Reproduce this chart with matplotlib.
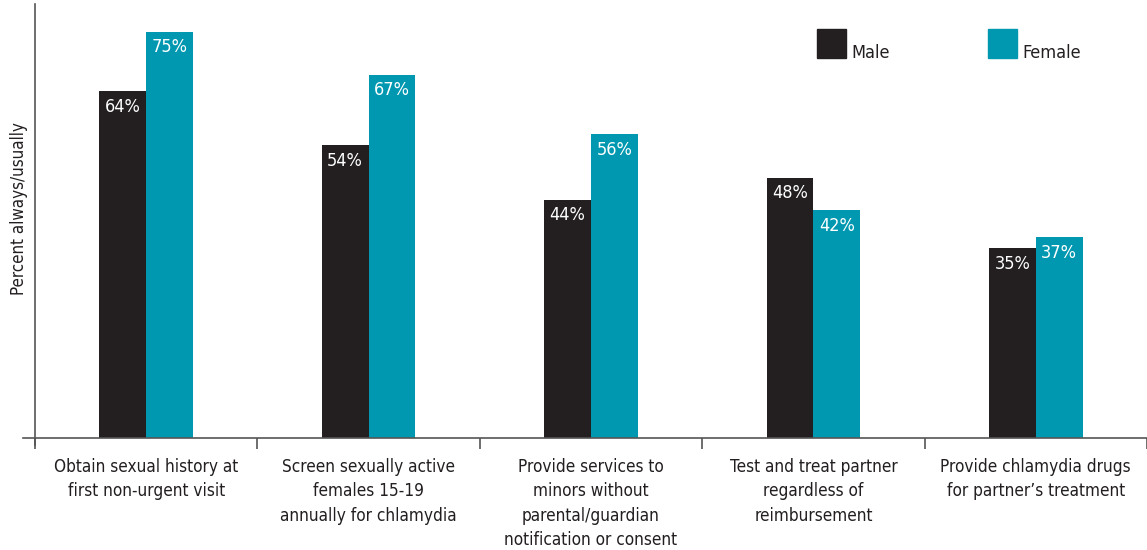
import matplotlib.pyplot as plt
from matplotlib.patches import Rectangle
import numpy as np

# Survey results: share of providers who always/usually do each practice
categories = [
    "Obtain sexual history at\nfirst non-urgent visit",
    "Screen sexually active\nfemales 15-19\nannually for chlamydia",
    "Provide services to\nminors without\nparental/guardian\nnotification or consent",
    "Test and treat partner\nregardless of\nreimbursement",
    "Provide chlamydia drugs\nfor partner\u2019s treatment",
]
male = [64, 54, 44, 48, 35]
female = [75, 67, 56, 42, 37]
series_names = ["Male", "Female"]

male_color = "#231f20"
female_color = "#0098b0"
axis_color = "#555555"

plt.rcParams['font.family'] = ['DejaVu Sans']
plt.rcParams['font.stretch'] = 'condensed'

W, H = 1147, 550
fig = plt.figure(figsize=(W / 100, H / 100), dpi=100)

# axes box in pixels: y axis at x=35, x axis at y=438
left_px, bottom_px, top_px = 23, 438, 4
ax = fig.add_axes([left_px / W, (H - bottom_px - 8) / H,
                   (W - left_px) / W, (bottom_px + 8 - top_px) / H])

group_px = 223.5
x0 = -(35 - left_px) / group_px
ax.set_xlim(x0, x0 + (W - left_px) / group_px)
px_per_pct = 5.42
ax.set_ylim(-8 / px_per_pct, (bottom_px - top_px) / px_per_pct)

x = np.arange(len(categories)) + 0.5
bw = 47 / group_px
mb = ax.bar(x - bw / 2, male, bw, color=male_color, zorder=2)
fb = ax.bar(x + bw / 2, female, bw, color=female_color, zorder=2)

for bars, vals in ((mb, male), (fb, female)):
    for b, v in zip(bars, vals):
        ax.text(b.get_x() + b.get_width() / 2, v - 1.2, f"{v}%",
                ha="center", va="top", color="white", fontsize=13)

# spines crossing at the origin, each running a little past the other
for s in ("top", "right"):
    ax.spines[s].set_visible(False)
ax.spines["left"].set_position(("data", 0))
ax.spines["bottom"].set_position(("data", 0))
ax.spines["left"].set_bounds(-7 / px_per_pct, ax.get_ylim()[1])
ax.spines["left"].set_color(axis_color)
ax.spines["bottom"].set_color(axis_color)
ax.spines["left"].set_linewidth(1.2)
ax.spines["bottom"].set_linewidth(1.2)

ax.set_yticks([])
ax.set_xticks(np.arange(len(categories) + 1))
ax.set_xticklabels([])
ax.tick_params(axis="x", direction="out", length=8, width=1.2, color=axis_color)

for xi, lab in zip(x, categories):
    ax.annotate(lab, (xi, 0), xytext=(0, -20), textcoords="offset pixels",
                ha="center", va="top", fontsize=12.3, color="#231f20",
                linespacing=1.45)

fig.text(19 / W, 1 - 209 / H, "Percent always/usually", rotation=90,
         ha="center", va="center", fontsize=12.2, color="#231f20")

# legend: squares with labels sitting at the bottom edge
for sx, name, col in ((817, series_names[0], male_color),
                      (988, series_names[1], female_color)):
    fig.patches.append(Rectangle((sx / W, 1 - 58 / H), 29 / W, 29 / H,
                                 transform=fig.transFigure, color=col))
    fig.text((sx + 34) / W, 1 - 58 / H, name, ha="left", va="baseline",
             fontsize=13, color="#231f20")

fig.savefig("out.png", dpi=100)
